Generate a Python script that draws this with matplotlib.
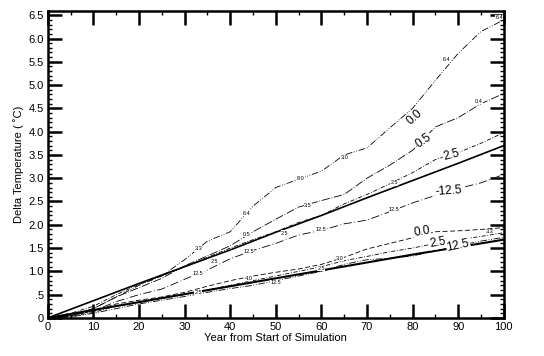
import numpy as np
import matplotlib
matplotlib.use("Agg")
import matplotlib.pyplot as plt
from matplotlib.ticker import MultipleLocator, FixedLocator

plt.rcParams["font.family"] = ["Liberation Sans", "DejaVu Sans"]

# years shared by the curved runs
years = [0, 5, 10, 15, 20, 25, 30, 35, 40, 45, 50, 55, 60, 65, 70, 75, 80, 85, 90, 95, 100]

# upper group
up_00 = [0, 0.05, 0.2, 0.45, 0.7, 0.9, 1.25, 1.65, 1.85, 2.4, 2.8, 2.98, 3.15, 3.5, 3.65,
         4.08, 4.5, 5.1, 5.68, 6.15, 6.4]
up_05 = [0, 0.05, 0.2, 0.45, 0.65, 0.85, 1.12, 1.33, 1.55, 1.85, 2.12, 2.38, 2.52, 2.65, 3.0,
         3.28, 3.6, 4.1, 4.3, 4.6, 4.82]
up_25 = [0, 0.1, 0.25, 0.5, 0.72, 0.9, 1.1, 1.3, 1.5, 1.68, 1.85, 2.05, 2.2, 2.45, 2.65,
         2.88, 3.12, 3.4, 3.55, 3.75, 3.98]
up_125 = [0, 0.05, 0.15, 0.35, 0.5, 0.62, 0.83, 1.03, 1.27, 1.45, 1.6, 1.78, 1.88, 2.02, 2.1,
          2.28, 2.47, 2.63, 2.78, 2.9, 3.08]

# lower group
lo_00 = [0, 0.05, 0.15, 0.3, 0.38, 0.45, 0.55, 0.68, 0.8, 0.9, 0.98, 1.05, 1.15, 1.3, 1.48,
         1.6, 1.72, 1.85, 1.87, 1.9, 1.94]
lo_25 = [0, 0.03, 0.12, 0.25, 0.33, 0.42, 0.5, 0.6, 0.7, 0.8, 0.9, 1.0, 1.1, 1.23, 1.32,
         1.42, 1.5, 1.6, 1.68, 1.75, 1.83]
lo_125 = [0, 0.02, 0.1, 0.2, 0.3, 0.38, 0.46, 0.55, 0.63, 0.7, 0.8, 0.9, 1.0, 1.15, 1.25,
          1.28, 1.33, 1.44, 1.55, 1.65, 1.73]

# straight reference lines
ref_years = [0, 10, 20, 30, 40, 50, 60, 70, 80, 90, 100]
ref_up = [0, 0.37, 0.74, 1.1, 1.46, 1.84, 2.2, 2.58, 2.95, 3.32, 3.7]
ref_lo = [0, 0.17, 0.34, 0.51, 0.68, 0.85, 1.02, 1.19, 1.36, 1.52, 1.68]

ytick_vals = [0, 0.5, 1.0, 1.5, 2.0, 2.5, 3.0, 3.5, 4.0, 4.5, 5.0, 5.5, 6.0, 6.5]
ytick_labels = ["0", ".5", "1.0", "1.5", "2.0", "2.5", "3.0", "3.5", "4.0", "4.5",
                "5.0", "5.5", "6.0", "6.5"]

fig = plt.figure(figsize=(5.44, 3.56), dpi=100)
ax = fig.add_axes([0.088, 0.107, 0.838, 0.862])

lw = 0.6
ax.plot(years, up_00, color="black", lw=lw, ls=(0, (8, 2, 1, 2, 1, 2)))
ax.plot(years, up_05, color="black", lw=lw, ls=(0, (10, 2, 1, 2)))
ax.plot(years, up_25, color="black", lw=lw, ls=(0, (5, 2, 1, 2)))
ax.plot(years, up_125, color="black", lw=lw, ls=(0, (10, 3, 1, 3)))
ax.plot(ref_years, ref_up, color="black", lw=1.2)

ax.plot(years, lo_00, color="black", lw=lw, ls=(0, (6, 3)))
ax.plot(years, lo_25, color="black", lw=lw, ls=(0, (5, 2, 1, 2)))
ax.plot(years, lo_125, color="black", lw=lw, ls=(0, (8, 2, 1, 2, 1, 2)))
ax.plot(ref_years, ref_lo, color="black", lw=1.5)

# inline labels on the curves
lab = dict(fontsize=8.5, ha="center", va="center",
           bbox=dict(facecolor="white", edgecolor="none", pad=0.5))
ax.text(80.5, 4.3, "0.0", rotation=42, **lab)
ax.text(82.5, 3.8, "0.5", rotation=35, **lab)
ax.text(88.5, 3.5, "2.5", rotation=15, **lab)
ax.text(88.0, 2.72, "-12.5", rotation=4, **lab)
ax.text(82.0, 1.86, "0.0", rotation=10, **lab)
ax.text(85.5, 1.62, "2.5", rotation=10, **lab)
ax.text(90.0, 1.56, "12.5", rotation=12, **lab)

# tiny markers written along the curves
tiny = dict(fontsize=4, ha="center", va="center",
            bbox=dict(facecolor="white", edgecolor="none", pad=0.1))
for x, y, t in [(99, 6.45, "6.4"), (87.5, 5.55, "6.4"), (65, 3.45, "3.0"), (55.5, 3.0, "8.0"),
                (43.5, 2.25, "6.4"), (33, 1.48, "3.3"), (94.5, 4.65, "0.4"), (57, 2.42, "3.5"),
                (43.5, 1.8, "0.5"), (76, 2.9, "2.5"), (52, 1.82, "2.5"), (36.5, 1.22, "2.5"),
                (76, 2.32, "12.5"), (60, 1.9, "12.5"), (44, 1.42, "12.5"), (33, 0.95, "12.5"),
                (64, 1.28, "3.0"), (44, 0.85, "4.0"), (97, 1.85, "3.3"), (60, 1.06, "2.5"),
                (50, 0.76, "12.5"), (33, 0.55, "2.5")]:
    ax.text(x, y, t, **tiny)

ax.set_xlim(0, 100)
ax.set_ylim(0, 6.59)
ax.xaxis.set_major_locator(MultipleLocator(10))
ax.xaxis.set_minor_locator(MultipleLocator(5))
ax.yaxis.set_major_locator(FixedLocator(ytick_vals))
ax.set_yticklabels(ytick_labels)
ax.yaxis.set_minor_locator(MultipleLocator(0.1))

ax.tick_params(which="both", direction="in", top=True, right=True, labelsize=8)
ax.tick_params(which="major", length=10, width=1.8, pad=3)
ax.tick_params(which="minor", length=3, width=1)
for s in ax.spines.values():
    s.set_linewidth(1.8)

ax.set_xlabel("Year from Start of Simulation", fontsize=8, labelpad=1)
ax.set_ylabel("Delta Temperature ( \u02daC)", fontsize=8, labelpad=3)

fig.savefig("out.png", dpi=100)
